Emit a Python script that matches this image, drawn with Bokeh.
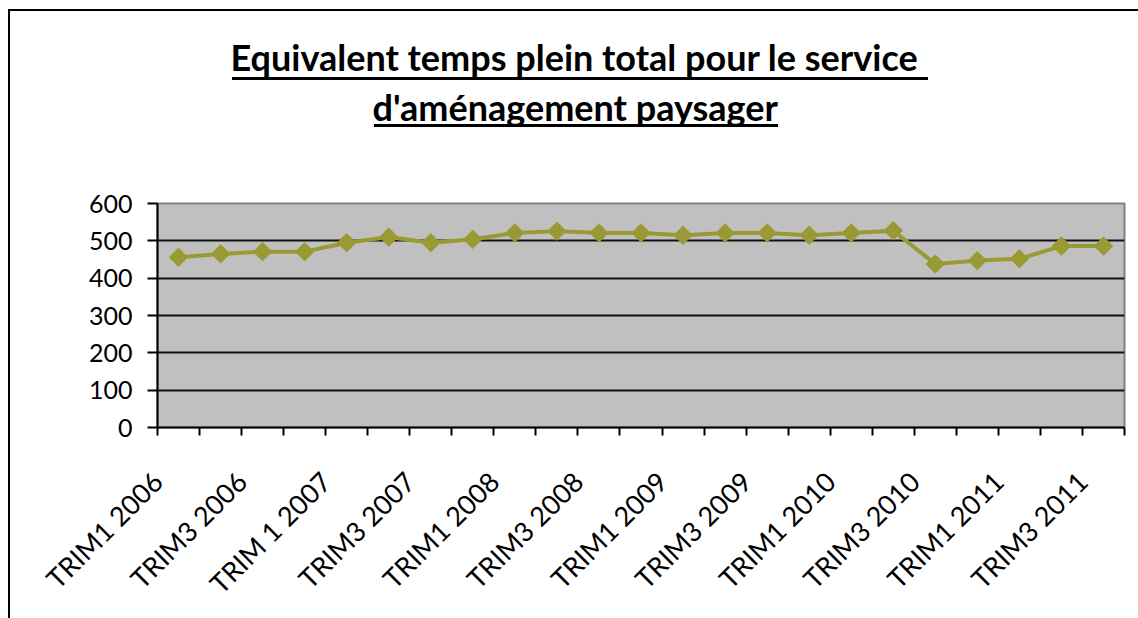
import math
from bokeh.plotting import figure
from bokeh.models import FixedTicker, Range1d, Title
from bokeh.embed import file_html
from bokeh.resources import INLINE

categories = [
    "TRIM1 2006", "TRIM2 2006", "TRIM3 2006", "TRIM4 2006",
    "TRIM 1 2007", "TRIM2 2007", "TRIM3 2007", "TRIM4 2007",
    "TRIM1 2008", "TRIM2 2008", "TRIM3 2008", "TRIM4 2008",
    "TRIM1 2009", "TRIM2 2009", "TRIM3 2009", "TRIM4 2009",
    "TRIM1 2010", "TRIM2 2010", "TRIM3 2010", "TRIM4 2010",
    "TRIM1 2011", "TRIM2 2011", "TRIM3 2011",
]
etp = [456, 465, 471, 471, 495, 510, 495, 504, 521, 526, 521, 521,
       515, 521, 521, 515, 521, 527, 438, 447, 452, 486, 486]
y_ticks = [0, 100, 200, 300, 400, 500, 600]
title_lines = ["Equivalent temps plein total pour le service ", "d'aménagement paysager"]

LINE_COLOR = "#9A9A34"
FONT = "Lato"

n = len(categories)
xs = [i + 0.5 for i in range(n)]

p = figure(frame_width=967, frame_height=224,
           min_border_left=157, min_border_right=14,
           min_border_top=203, min_border_bottom=191,
           x_range=Range1d(0, n), y_range=Range1d(0, 600),
           output_backend="svg", toolbar_location=None)

# chart-area frame (left/top edges) and title underlines drawn as CSS backdrop
p.styles = {
    "background-image": ", ".join(["linear-gradient(#000, #000)"] * 4),
    "background-size": "2px 609px, 1130px 2px, 696px 3px, 404px 3px",
    "background-position": "8px 9px, 8px 9px, 232px 77px, 374px 124px",
    "background-repeat": "no-repeat",
}

p.background_fill_color = "#C0C0C0"
p.border_fill_alpha = 0
p.outline_line_color = "#808080"
p.outline_line_width = 2

# title: main title is outermost; added panels stack outward from the frame
p.title.text = title_lines[0]
p.title.align = "left"
p.title.offset = 73
p.title.standoff = 5
p.title.text_font = FONT
p.title.text_font_style = "bold"
p.title.text_font_size = "36px"
p.title.text_color = "black"
# spacer nearest the frame
p.add_layout(Title(text=" ", align="left", standoff=28,
                   text_font=FONT, text_font_style="bold", text_font_size="36px",
                   text_color="black"), "above")
# second title line
p.add_layout(Title(text=title_lines[1], align="left", offset=215, standoff=2,
                   text_font=FONT, text_font_style="bold", text_font_size="36px",
                   text_color="black"), "above")

p.xgrid.visible = False
p.ygrid.ticker = FixedTicker(ticks=y_ticks[1:-1])
p.ygrid.grid_line_color = "#111111"
p.ygrid.grid_line_width = 2

ya = p.yaxis[0]
ya.ticker = FixedTicker(ticks=y_ticks, minor_ticks=[])
ya.axis_line_color = "black"
ya.axis_line_width = 2
ya.major_tick_out = 10
ya.major_tick_in = 0
ya.major_tick_line_color = "black"
ya.major_tick_line_width = 2
ya.minor_tick_line_color = None
ya.major_label_text_font = FONT
ya.major_label_text_font_size = "25px"
ya.major_label_text_color = "black"
ya.major_label_standoff = 15

label_idx = list(range(0, n, 2))
xa = p.xaxis[0]
xa.ticker = FixedTicker(ticks=[float(i) for i in label_idx], minor_ticks=list(range(n + 1)))
xa.major_label_overrides = {float(i): categories[i] for i in label_idx}
xa.major_tick_out = 0
xa.major_tick_in = 0
xa.minor_tick_out = 8
xa.minor_tick_in = 0
xa.minor_tick_line_color = "black"
xa.minor_tick_line_width = 2
xa.axis_line_color = "black"
xa.axis_line_width = 2
xa.major_label_orientation = math.pi / 4
xa.major_label_text_font = FONT
xa.major_label_text_font_size = "27px"
xa.major_label_text_color = "black"
xa.major_label_standoff = 41

p.line(xs, etp, line_color=LINE_COLOR, line_width=4)
p.scatter(xs, etp, marker="square", angle=math.pi / 4, size=13,
          fill_color=LINE_COLOR, line_color=LINE_COLOR)

open("out.html", "w").write(file_html(p, INLINE))
